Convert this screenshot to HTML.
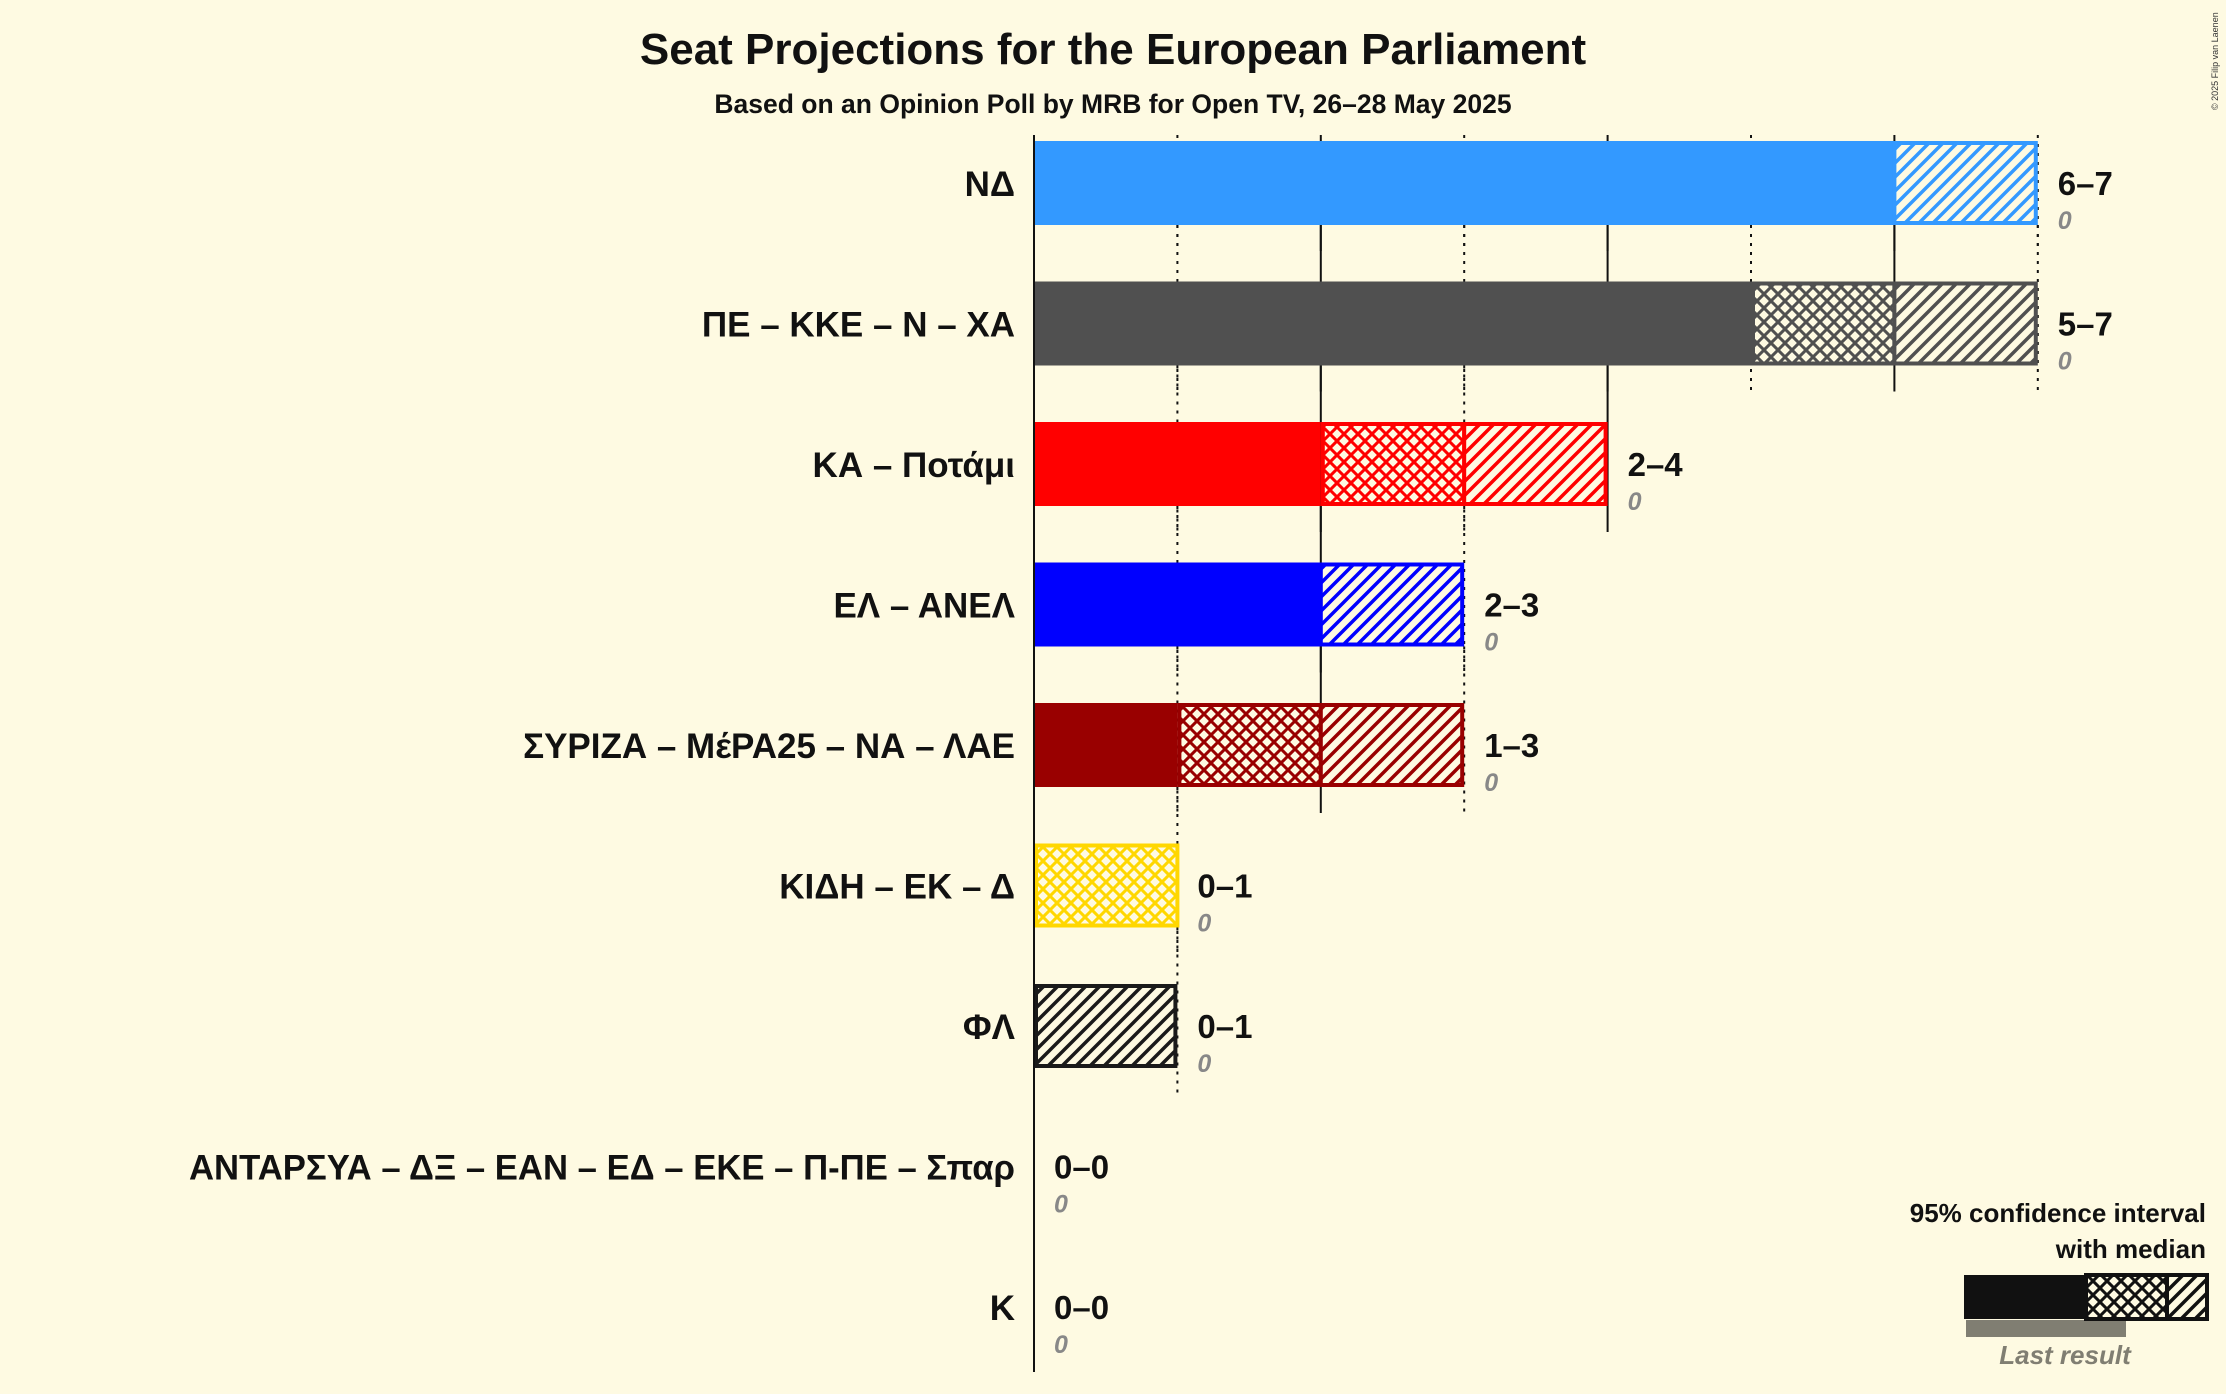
<!DOCTYPE html>
<html><head><meta charset="utf-8"><style>
html,body{margin:0;padding:0;background:#FEFAE2;}
svg{display:block;font-family:"Liberation Sans","DejaVu Sans",sans-serif;}
</style></head><body>
<svg id="chart" width="2226" height="1394" viewBox="0 0 2226 1394" xmlns="http://www.w3.org/2000/svg">
<defs id="defs"></defs>
<rect x="0" y="0" width="2226" height="1394" fill="#FEFAE2"/>
<text x="1113" y="64" text-anchor="middle" font-size="44" font-weight="bold" fill="#111">Seat Projections for the European Parliament</text>
<text x="1113" y="113" text-anchor="middle" font-size="26.5" font-weight="bold" fill="#111">Based on an Opinion Poll by MRB for Open TV, 26–28 May 2025</text>
<text transform="translate(2218,110) rotate(-90)" font-size="9" fill="#333">© 2025 Filip van Laenen</text>
<g id="grid"></g>
<g id="bars"></g>
<line x1="1034" y1="135" x2="1034" y2="1372" stroke="#111" stroke-width="2"/>
<g id="legend">
<text x="2206" y="1222" text-anchor="end" font-size="26" font-weight="bold" fill="#111">95% confidence interval</text>
<text x="2206" y="1258" text-anchor="end" font-size="26" font-weight="bold" fill="#111">with median</text>
<rect x="1966" y="1320" width="160" height="17" fill="#807E72"/>
<rect x="1964" y="1275" width="122" height="44" fill="#111"/>
<rect id="lgc" x="2086" y="1275" width="81" height="44" fill="#fff" stroke="#111" stroke-width="4"/>
<rect id="lgh" x="2167" y="1275" width="40" height="44" fill="#fff" stroke="#111" stroke-width="4"/>
<text x="2065" y="1364" text-anchor="middle" font-size="26" font-style="italic" font-weight="bold" fill="#807E72">Last result</text>
</g>
</svg>
<script>
const parties = ["ΝΔ","ΠΕ – ΚΚΕ – Ν – ΧΑ","ΚΑ – Ποτάμι","ΕΛ – ΑΝΕΛ","ΣΥΡΙΖΑ – ΜέΡΑ25 – ΝΑ – ΛΑΕ","ΚΙΔΗ – ΕΚ – Δ","ΦΛ","ΑΝΤΑΡΣΥΑ – ΔΞ – ΕΑΝ – ΕΔ – ΕΚΕ – Π-ΠΕ – Σπαρ","Κ"];
const lows = [6,5,2,2,1,0,0,0,0];
const medians = [6,6,3,2,2,1,0,0,0];
const highs = [7,7,4,3,3,1,1,0,0];
const lastResults = [0,0,0,0,0,0,0,0,0];
const colors = ["#3399FF","#505050","#FF0000","#0000FF","#990000","#FFD700","#1A1A1A","#888888","#888888"];

const NS="http://www.w3.org/2000/svg";
const X0=1034, UNIT=143.4, Y0=183, STEP=140.5, BH=84;
const xs=v=>X0+v*UNIT;
const yc=i=>Y0+i*STEP;
const defs=document.getElementById('defs');
function mk(tag,attrs,parent){const e=document.createElementNS(NS,tag);for(const k in attrs)e.setAttribute(k,attrs[k]);if(parent)parent.appendChild(e);return e;}
const made={};
function patterns(c){
  const id=c.replace('#','');
  if(made[id])return id;made[id]=1;
  const h=mk('pattern',{id:'hatch-'+id,patternUnits:'userSpaceOnUse',width:14,height:14},defs);
  mk('rect',{width:14,height:14,fill:'#FEFAE2'},h);
  mk('path',{d:'M-3,17 L17,-3 M-3,3 L3,-3 M11,17 L17,11',stroke:c,'stroke-width':3.5},h);
  const x=mk('pattern',{id:'cross-'+id,patternUnits:'userSpaceOnUse',width:14,height:14},defs);
  mk('rect',{width:14,height:14,fill:'#FEFAE2'},x);
  mk('path',{d:'M-3,17 L17,-3 M-3,3 L3,-3 M11,17 L17,11 M-3,-3 L17,17 M11,-3 L17,3 M-3,11 L3,17',stroke:c,'stroke-width':3},x);
  return id;
}
patterns('#111111');
document.getElementById('lgc').setAttribute('fill','url(#cross-111111)');
document.getElementById('lgh').setAttribute('fill','url(#hatch-111111)');

const grid=document.getElementById('grid'), bars=document.getElementById('bars');
parties.forEach((p,i)=>{
  const c=yc(i), top=c-BH/2;
  for(let s=1;s<=highs[i];s++){
    const l=mk('line',{x1:xs(s),x2:xs(s),y1:top-(i===0?6:(STEP-BH)),y2:top+BH+26,stroke:'#111','stroke-width':2},grid);
    if(s%2===1) l.setAttribute('stroke-dasharray','3,6');
    
    
  }
  const id=patterns(colors[i]);
  const g=mk('g',{},bars);
  
  
  if(highs[i]>0){
    if(lows[i]>0){
      const r=mk('rect',{x:xs(0),y:top,width:xs(lows[i])-xs(0),height:BH,fill:colors[i]},g);
      
      
    }
    if(medians[i]>lows[i]){
      const r=mk('rect',{x:xs(lows[i])+2,y:top+2,width:xs(medians[i])-xs(lows[i])-2,height:BH-4,fill:'url(#cross-'+id+')',stroke:colors[i],'stroke-width':4},g);
      
      
    }
    if(highs[i]>medians[i]){
      const r=mk('rect',{x:xs(medians[i])+(medians[i]>0?0:2),y:top+2,width:xs(highs[i])-xs(medians[i])-(medians[i]>0?2:4),height:BH-4,fill:'url(#hatch-'+id+')',stroke:colors[i],'stroke-width':4},g);
      
      
    }
  }
  const lab=mk('text',{x:1015,y:c+13,'text-anchor':'end','font-size':35,'font-weight':'bold',fill:'#111'},g);
  lab.textContent=p;
  if(p.length>30){lab.setAttribute('textLength',826);lab.setAttribute('lengthAdjust','spacingAndGlyphs');}
  
  
  const vx=xs(highs[i])+20;
  const v=mk('text',{x:vx,y:c+12,'font-size':33,'font-weight':'bold',fill:'#111'},g);
  v.textContent=lows[i]+'–'+highs[i];
  
  
  const lr=mk('text',{x:vx,y:c+46,'font-size':25,'font-style':'italic','font-weight':'bold',fill:'#888'},g);
  lr.textContent=lastResults[i];
  
  
});
</script>
</body></html>
